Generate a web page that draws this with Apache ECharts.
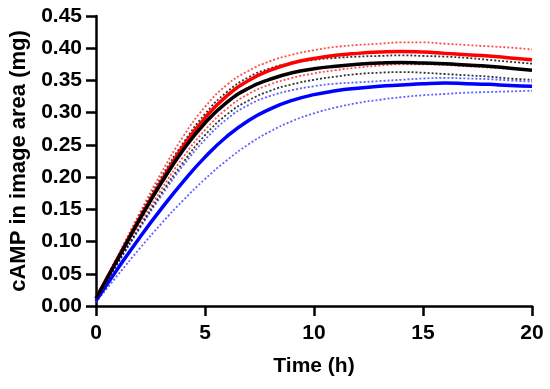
<!DOCTYPE html>
<html>
<head>
<meta charset="utf-8">
<script src="https://cdn.jsdelivr.net/npm/echarts@6/dist/echarts.min.js"></script>
<style>html,body{margin:0;padding:0;background:#fff}#c{width:550px;height:389px}</style>
</head>
<body>
<div id="c"></div>
<script>
const timeH = [0,1,2,3,4,5,6,7,8,9,10,11,12,13,14,15,16,17,18,19,20];
const xTicks = [0,5,10,15,20];
const yTicks = [0,0.05,0.10,0.15,0.20,0.25,0.30,0.35,0.40,0.45];

const redMean  = [0.012,0.074,0.136,0.194,0.248,0.292,0.326,0.350,0.366,0.377,0.384,0.389,0.392,0.394,0.395,0.394,0.392,0.390,0.388,0.385,0.382];
const redUpper = [0.013,0.078,0.144,0.207,0.263,0.309,0.343,0.365,0.380,0.390,0.397,0.402,0.405,0.407,0.409,0.409,0.407,0.405,0.403,0.401,0.398];
const redLower = [0.011,0.069,0.127,0.181,0.231,0.273,0.306,0.329,0.344,0.354,0.361,0.366,0.370,0.373,0.375,0.375,0.374,0.372,0.370,0.368,0.366];

const blackMean  = [0.012,0.073,0.134,0.191,0.242,0.284,0.316,0.338,0.352,0.362,0.368,0.372,0.375,0.377,0.378,0.377,0.376,0.374,0.372,0.369,0.366];
const blackUpper = [0.013,0.076,0.140,0.200,0.253,0.298,0.332,0.355,0.369,0.377,0.382,0.385,0.387,0.388,0.389,0.388,0.387,0.385,0.382,0.379,0.376];
const blackLower = [0.011,0.067,0.122,0.175,0.223,0.265,0.297,0.319,0.334,0.344,0.351,0.356,0.360,0.362,0.363,0.362,0.360,0.358,0.356,0.353,0.351];

const blueMean  = [0.008,0.058,0.106,0.151,0.193,0.231,0.263,0.288,0.306,0.319,0.328,0.334,0.338,0.341,0.343,0.345,0.346,0.345,0.344,0.342,0.341];
const blueUpper = [0.010,0.066,0.120,0.171,0.218,0.258,0.290,0.312,0.326,0.335,0.341,0.345,0.347,0.349,0.351,0.353,0.354,0.353,0.352,0.350,0.348];
const blueLower = [0.006,0.048,0.089,0.128,0.164,0.197,0.226,0.251,0.271,0.287,0.299,0.308,0.315,0.320,0.324,0.327,0.329,0.331,0.332,0.333,0.334];

const FONT = '"Liberation Sans", Arial, sans-serif';
const pairs = arr => timeH.map((t, i) => [t, arr[i]]);

function line(name, arr, color, dotted) {
  return {
    name, type: 'line', data: pairs(arr), smooth: 0.5, symbol: 'none',
    lineStyle: dotted ? { color, width: 1.8, type: [2, 2], opacity: 0.8 }
                      : { color, width: 3.5 },
    z: dotted ? 2 : 3
  };
}

const chart = echarts.init(document.getElementById('c'), null, { renderer: 'canvas' });
chart.setOption({
  animation: false,
  backgroundColor: '#fff',
  grid: { left: 96, right: 18, top: 16, bottom: 83, containLabel: false },
  xAxis: {
    type: 'value', min: xTicks[0], max: xTicks[xTicks.length - 1], interval: 5,
    name: 'Time (h)', nameLocation: 'middle', nameGap: 50,
    nameTextStyle: { fontFamily: FONT, fontWeight: 'bold', fontSize: 21, color: '#000' },
    axisLine: { lineStyle: { color: '#000', width: 2.5 } },
    axisTick: { length: 10, lineStyle: { color: '#000', width: 2.5 } },
    axisLabel: { margin: 17, fontFamily: FONT, fontWeight: 'bold', fontSize: 21, color: '#000' },
    splitLine: { show: false }
  },
  yAxis: {
    type: 'value', min: yTicks[0], max: yTicks[yTicks.length - 1], interval: 0.05,
    name: 'cAMP in image area (mg)', nameLocation: 'middle', nameGap: 63,
    nameTextStyle: { fontFamily: FONT, fontWeight: 'bold', fontSize: 22, color: '#000' },
    axisLine: { show: true, lineStyle: { color: '#000', width: 2.5 } },
    axisTick: { show: true, length: 10, lineStyle: { color: '#000', width: 2.5 } },
    axisLabel: { margin: 14, fontFamily: FONT, fontWeight: 'bold', fontSize: 21, color: '#000',
      formatter: v => v.toFixed(2) },
    splitLine: { show: false }
  },
  series: [
    line('blue upper', blueUpper, '#3a3aff', true),
    line('blue lower', blueLower, '#3a3aff', true),
    line('red upper', redUpper, '#ff2020', true),
    line('red lower', redLower, '#ff2020', true),
    line('black upper', blackUpper, '#000', true),
    line('black lower', blackLower, '#000', true),
    line('blue mean', blueMean, '#0000ff', false),
    line('red mean', redMean, '#ff0000', false),
    line('black mean', blackMean, '#000000', false)
  ]
});
</script>
</body>
</html>
